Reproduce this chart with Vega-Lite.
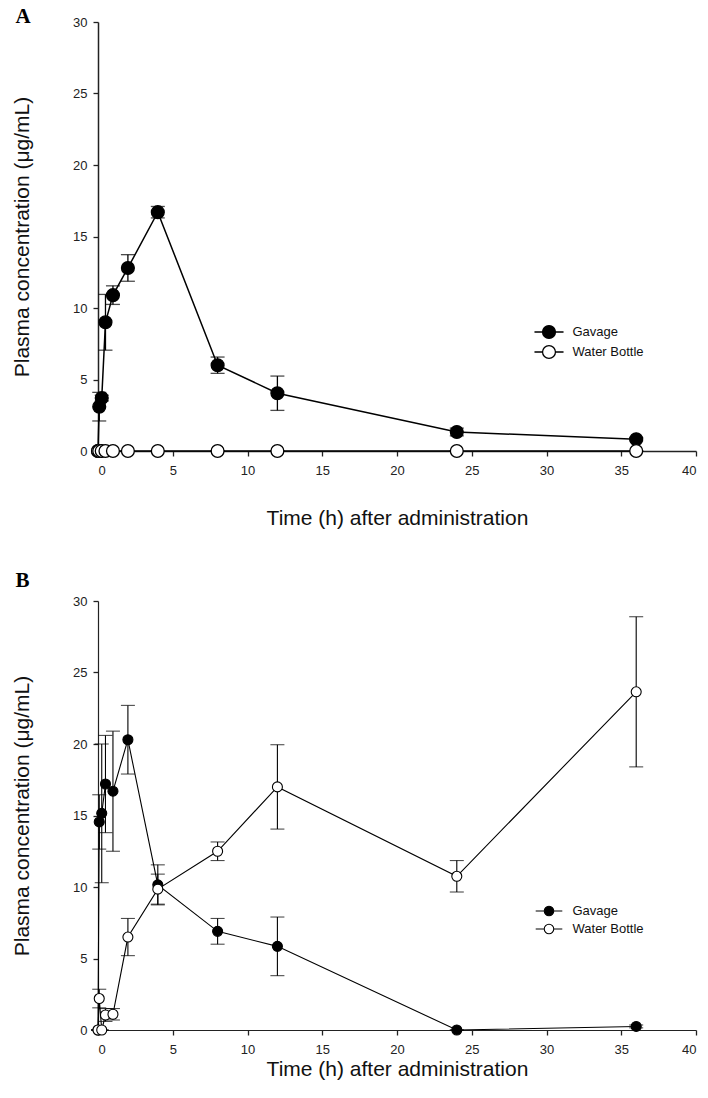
{
  "$schema": "https://vega.github.io/schema/vega-lite/v6.json",
  "padding": {"left": 11, "top": 6, "right": 4, "bottom": 20},
  "background": "white",
  "config": {
    "font": "Liberation Sans",
    "view": {"stroke": null},
    "axis": {"grid": false, "domainColor": "#222", "tickColor": "#222", "labelColor": "#222", "titleColor": "#111", "labelFont": "Liberation Sans", "titleFont": "Liberation Sans", "labelFontSize": 13, "titleFontWeight": "normal", "tickSize": 5, "domainWidth": 1.5, "tickWidth": 1.3}
  },
  "datasets": {
    "A": [
      {"series": "Gavage", "t": 0, "v": 0, "err": 0},
      {"series": "Gavage", "t": 0.083, "v": 3.1, "err": 1.0},
      {"series": "Gavage", "t": 0.25, "v": 3.7, "err": 0.2},
      {"series": "Gavage", "t": 0.5, "v": 9.0, "err": 1.95},
      {"series": "Gavage", "t": 1, "v": 10.9, "err": 0.65},
      {"series": "Gavage", "t": 2, "v": 12.8, "err": 0.93},
      {"series": "Gavage", "t": 4, "v": 16.7, "err": 0.4},
      {"series": "Gavage", "t": 8, "v": 6.0, "err": 0.57},
      {"series": "Gavage", "t": 12, "v": 4.04, "err": 1.2},
      {"series": "Gavage", "t": 24, "v": 1.33, "err": 0.27},
      {"series": "Gavage", "t": 36, "v": 0.82, "err": 0.1},
      {"series": "Water Bottle", "t": 0, "v": 0, "err": 0},
      {"series": "Water Bottle", "t": 0.083, "v": 0, "err": 0},
      {"series": "Water Bottle", "t": 0.25, "v": 0, "err": 0},
      {"series": "Water Bottle", "t": 0.5, "v": 0, "err": 0},
      {"series": "Water Bottle", "t": 1, "v": 0, "err": 0},
      {"series": "Water Bottle", "t": 2, "v": 0, "err": 0},
      {"series": "Water Bottle", "t": 4, "v": 0, "err": 0},
      {"series": "Water Bottle", "t": 8, "v": 0, "err": 0},
      {"series": "Water Bottle", "t": 12, "v": 0, "err": 0},
      {"series": "Water Bottle", "t": 24, "v": 0, "err": 0},
      {"series": "Water Bottle", "t": 36, "v": 0, "err": 0}
    ],
    "B": [
      {"series": "Gavage", "t": 0, "v": 0, "err": 0},
      {"series": "Gavage", "t": 0.083, "v": 14.55, "err": 1.9},
      {"series": "Gavage", "t": 0.25, "v": 15.15, "err": 4.85},
      {"series": "Gavage", "t": 0.5, "v": 17.2, "err": 3.4},
      {"series": "Gavage", "t": 1, "v": 16.7, "err": 4.2},
      {"series": "Gavage", "t": 2, "v": 20.3, "err": 2.4},
      {"series": "Gavage", "t": 4, "v": 10.15, "err": 1.4},
      {"series": "Gavage", "t": 8, "v": 6.9, "err": 0.9},
      {"series": "Gavage", "t": 12, "v": 5.85, "err": 2.05},
      {"series": "Gavage", "t": 24, "v": 0, "err": 0},
      {"series": "Gavage", "t": 36, "v": 0.25, "err": 0.1},
      {"series": "Water Bottle", "t": 0, "v": 0, "err": 0},
      {"series": "Water Bottle", "t": 0.083, "v": 2.2, "err": 0.65},
      {"series": "Water Bottle", "t": 0.25, "v": 0, "err": 0},
      {"series": "Water Bottle", "t": 0.5, "v": 1.05, "err": 0.45},
      {"series": "Water Bottle", "t": 1, "v": 1.1, "err": 0.4},
      {"series": "Water Bottle", "t": 2, "v": 6.5, "err": 1.3},
      {"series": "Water Bottle", "t": 4, "v": 9.85, "err": 1.05},
      {"series": "Water Bottle", "t": 8, "v": 12.5, "err": 0.65},
      {"series": "Water Bottle", "t": 12, "v": 17.0, "err": 2.95},
      {"series": "Water Bottle", "t": 24, "v": 10.75, "err": 1.1},
      {"series": "Water Bottle", "t": 36, "v": 23.65, "err": 5.25}
    ]
  },
  "resolve": {"scale": {"fill": "independent"}},
  "spacing": 42,
  "vconcat": [
    {
      "width": 598,
      "height": 429,
      "title": {"text": "A", "anchor": "start", "frame": "bounds", "font": "Liberation Serif", "fontSize": 21, "fontWeight": "bold", "offset": -11, "dx": 4, "color": "#000"},
      "data": {"name": "A"},
      "encoding": {
        "x": {"field": "t", "type": "quantitative", "scale": {"domain": [0, 40], "nice": false},
              "axis": {"values": [0, 5, 10, 15, 20, 25, 30, 35, 40], "title": "Time (h) after administration", "titleFontSize": 21, "titlePadding": 30, "labelPadding": 8}},
        "y": {"field": "v", "type": "quantitative", "scale": {"domain": [0, 30], "nice": false},
              "axis": {"values": [0, 5, 10, 15, 20, 25, 30], "title": "Plasma concentration (μg/mL)", "titleFontSize": 21, "titlePadding": 40, "labelPadding": 6}}
      },
      "layer": [
        {"mark": {"type": "line", "color": "black", "strokeWidth": 1.5}, "encoding": {"detail": {"field": "series"}}},
        {"mark": {"type": "errorbar", "ticks": {"size": 14, "thickness": 1.3, "color": "black"}, "rule": {"strokeWidth": 1.3, "color": "black"}}, "encoding": {"yError": {"field": "err"}}},
        {"mark": {"type": "point", "shape": "circle", "filled": true, "stroke": "black", "strokeWidth": 1.3, "size": 165, "opacity": 1},
         "encoding": {"fill": {"field": "series", "type": "nominal", "scale": {"domain": ["Gavage", "Water Bottle"], "range": ["#000000", "#ffffff"]},
           "legend": {"title": null, "orient": "none", "legendX": 440.5, "legendY": 299.5, "padding": 0, "rowPadding": 0,
             "symbolType": "M-1.53,0L-0.68,0M0.68,0L1.53,0M-0.68,0A0.68,0.68,0,1,0,0.68,0A0.68,0.68,0,1,0,-0.68,0Z",
             "symbolSize": 361, "symbolStrokeColor": "black", "symbolStrokeWidth": 1.3, "labelFont": "Liberation Sans", "labelFontSize": 13, "labelColor": "#111", "labelOffset": 13, "labelLimit": 200}}}}
      ]
    },
    {
      "width": 598,
      "height": 429,
      "title": {"text": "B", "anchor": "start", "frame": "bounds", "font": "Liberation Serif", "fontSize": 21, "fontWeight": "bold", "offset": 4, "dx": 4, "color": "#000"},
      "data": {"name": "B"},
      "encoding": {
        "x": {"field": "t", "type": "quantitative", "scale": {"domain": [0, 40], "nice": false},
              "axis": {"values": [0, 5, 10, 15, 20, 25, 30, 35, 40], "title": "Time (h) after administration", "titleFontSize": 21, "titlePadding": 2, "labelPadding": 8, "domainWidth": 1.2}},
        "y": {"field": "v", "type": "quantitative", "scale": {"domain": [0, 30], "nice": false},
              "axis": {"values": [0, 5, 10, 15, 20, 25, 30], "title": "Plasma concentration (μg/mL)", "titleFontSize": 21, "titlePadding": 40, "labelPadding": 6, "domainWidth": 1.2}}
      },
      "layer": [
        {"mark": {"type": "line", "color": "black", "strokeWidth": 1.1}, "encoding": {"detail": {"field": "series"}}},
        {"mark": {"type": "errorbar", "ticks": {"size": 14, "thickness": 1.1, "color": "black"}, "rule": {"strokeWidth": 1.1, "color": "black"}}, "encoding": {"yError": {"field": "err"}}},
        {"mark": {"type": "point", "shape": "circle", "filled": true, "stroke": "black", "strokeWidth": 1.1, "size": 100, "opacity": 1},
         "encoding": {"fill": {"field": "series", "type": "nominal", "scale": {"domain": ["Gavage", "Water Bottle"], "range": ["#000000", "#ffffff"]},
           "legend": {"title": null, "orient": "none", "legendX": 440.5, "legendY": 299.5, "padding": 0, "rowPadding": 0,
             "symbolType": "M-1.4,0L-0.5,0M0.5,0L1.4,0M-0.5,0A0.5,0.5,0,1,0,0.5,0A0.5,0.5,0,1,0,-0.5,0Z",
             "symbolSize": 361, "symbolStrokeColor": "black", "symbolStrokeWidth": 1.1, "labelFont": "Liberation Sans", "labelFontSize": 13, "labelColor": "#111", "labelOffset": 13, "labelLimit": 200}}}}
      ]
    }
  ]
}
